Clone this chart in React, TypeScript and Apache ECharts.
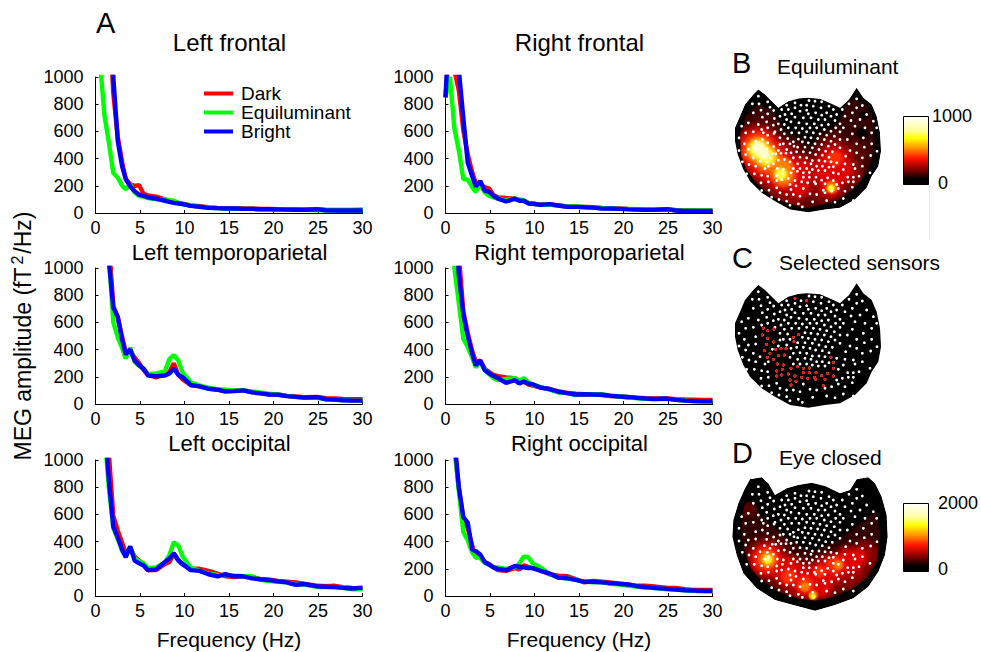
import React, { useEffect, useRef } from "react";
import * as echarts from "echarts";

const FONT = '"Liberation Sans", Arial, sans-serif';
const FREQ = [0, 0.5, 1, 1.5, 2, 2.5, 3, 3.4, 3.9, 4.4, 4.9, 5.4, 5.9, 6.8, 7.8, 8.3, 8.8, 9.3, 9.8, 10.7, 11.7, 12.7, 13.7, 14.6, 15.6, 16.6, 17.6, 18.5, 19.5, 20.5, 21.5, 22.5, 23.4, 24.9, 25.9, 26.9, 27.8, 28.8, 30];
const CONDITIONS = ["Dark", "Equiluminant", "Bright"];
const COND_COLORS = ["#ff0000", "#00ff00", "#0000ff"];

const leftFrontalDark = [3000, 3000, 2600, 1500, 880, 560, 370, 250, 210, 200, 205, 140, 130, 120, 100, 90, 85, 75, 68, 55, 50, 42, 38, 36, 36, 33, 33, 30, 30, 28, 27, 27, 26, 28, 22, 22, 22, 23, 24];
const leftFrontalEqui = [3000, 1120, 720, 520, 295, 260, 200, 175, 210, 150, 125, 120, 110, 100, 100, 95, 90, 75, 65, 55, 47, 40, 35, 33, 33, 30, 30, 28, 28, 27, 25, 24, 23, 20, 20, 18, 18, 18, 18];
const leftFrontalBright = [3000, 3000, 2800, 2000, 1000, 530, 340, 250, 195, 160, 135, 125, 115, 105, 90, 82, 75, 70, 65, 52, 46, 38, 36, 33, 33, 31, 30, 28, 28, 27, 25, 24, 23, 27, 20, 18, 18, 18, 18];
const rightFrontalDark = [850, 1300, 1050, 900, 610, 430, 300, 220, 210, 190, 180, 130, 115, 110, 105, 95, 90, 75, 70, 62, 62, 55, 48, 47, 45, 42, 38, 36, 33, 30, 28, 26, 24, 28, 20, 18, 18, 17, 17];
const rightFrontalEqui = [850, 1000, 620, 460, 250, 245, 190, 155, 215, 150, 125, 115, 105, 95, 105, 100, 95, 75, 68, 60, 62, 55, 48, 48, 45, 42, 35, 35, 32, 30, 28, 26, 24, 28, 20, 18, 18, 18, 18];
const rightFrontalBright = [850, 1500, 1500, 1050, 700, 370, 270, 195, 235, 165, 155, 125, 105, 85, 105, 90, 90, 70, 68, 60, 65, 55, 45, 45, 42, 40, 32, 33, 30, 27, 25, 23, 23, 28, 18, 15, 15, 15, 15];
const leftTempDark = [3000, 3000, 3000, 1200, 720, 640, 490, 380, 390, 340, 300, 250, 215, 195, 215, 235, 300, 215, 180, 140, 130, 115, 105, 98, 98, 100, 88, 80, 72, 70, 60, 55, 50, 52, 42, 40, 38, 36, 36];
const leftTempEqui = [3000, 3000, 3000, 1100, 600, 490, 410, 335, 415, 310, 280, 260, 220, 225, 240, 330, 360, 320, 230, 160, 135, 120, 108, 105, 100, 100, 92, 85, 75, 70, 60, 52, 50, 45, 35, 32, 28, 25, 25];
const leftTempBright = [3000, 3000, 3000, 1050, 710, 640, 470, 365, 400, 320, 285, 260, 210, 205, 210, 225, 260, 215, 195, 140, 130, 112, 105, 92, 95, 100, 85, 78, 70, 68, 58, 52, 48, 50, 35, 32, 28, 25, 25];
const rightTempDark = [3000, 3000, 2200, 1100, 680, 520, 390, 310, 320, 260, 235, 215, 205, 195, 190, 170, 165, 145, 135, 120, 110, 92, 82, 75, 72, 72, 65, 58, 55, 50, 47, 42, 40, 40, 35, 33, 32, 30, 30];
const rightTempEqui = [3000, 1800, 1000, 740, 480, 420, 340, 270, 310, 255, 220, 190, 175, 185, 190, 170, 190, 160, 140, 125, 105, 85, 80, 65, 72, 72, 72, 60, 55, 50, 42, 38, 36, 38, 30, 25, 22, 20, 20];
const rightTempBright = [3000, 3000, 1500, 950, 660, 500, 370, 285, 320, 250, 225, 205, 190, 155, 175, 150, 165, 150, 145, 120, 110, 90, 80, 70, 72, 70, 68, 62, 55, 52, 45, 40, 37, 40, 30, 25, 22, 20, 20];
const leftOccDark = [3000, 3000, 1500, 1050, 590, 480, 390, 310, 350, 290, 260, 230, 190, 190, 235, 250, 310, 260, 230, 200, 200, 185, 165, 145, 140, 145, 140, 125, 120, 110, 105, 100, 90, 75, 72, 75, 65, 60, 55];
const leftOccEqui = [3000, 3000, 1200, 800, 500, 420, 330, 300, 360, 280, 255, 240, 205, 210, 245, 300, 395, 370, 290, 210, 185, 165, 155, 155, 150, 145, 145, 120, 110, 105, 100, 85, 85, 65, 65, 65, 60, 50, 50];
const leftOccBright = [3000, 3000, 1300, 850, 510, 430, 340, 285, 365, 260, 240, 225, 190, 195, 250, 275, 315, 265, 235, 190, 185, 160, 145, 160, 145, 145, 130, 122, 118, 108, 100, 82, 88, 72, 68, 65, 60, 55, 62];
const rightOccDark = [3000, 1800, 1100, 790, 570, 500, 370, 280, 300, 250, 235, 210, 190, 185, 205, 195, 225, 215, 205, 190, 160, 150, 145, 125, 100, 110, 105, 100, 90, 85, 75, 75, 70, 60, 60, 50, 45, 45, 45];
const rightOccEqui = [3000, 1600, 1100, 770, 470, 410, 320, 285, 280, 245, 230, 210, 210, 200, 210, 240, 290, 285, 240, 210, 160, 135, 130, 120, 105, 100, 100, 90, 85, 75, 70, 60, 58, 50, 48, 42, 38, 35, 33];
const rightOccBright = [3000, 1500, 1150, 800, 580, 540, 340, 330, 305, 250, 230, 210, 200, 190, 220, 215, 210, 205, 205, 185, 165, 135, 130, 118, 105, 105, 100, 95, 90, 85, 72, 65, 60, 52, 48, 42, 40, 38, 38];

const PANELS = [
  { title: "Left frontal", series: [leftFrontalDark, leftFrontalEqui, leftFrontalBright] },
  { title: "Right frontal", series: [rightFrontalDark, rightFrontalEqui, rightFrontalBright] },
  { title: "Left temporoparietal", series: [leftTempDark, leftTempEqui, leftTempBright] },
  { title: "Right temporoparietal", series: [rightTempDark, rightTempEqui, rightTempBright] },
  { title: "Left occipital", series: [leftOccDark, leftOccEqui, leftOccBright] },
  { title: "Right occipital", series: [rightOccDark, rightOccEqui, rightOccBright] },
];

// sensor layout
const sensorsWhite = [
  [100,155],[82,178],[128,172],[102,178],[135,188],[108,197],[85,205],[128,208],[112,218],[146,198],[70,235],[50,245],[100,240],[125,232],[148,222],
  [395,163],[372,178],[412,183],[395,190],[352,195],[335,210],[382,205],[425,210],[360,215],[405,225],[378,228],[445,230],[345,238],[355,250],[390,245],[420,250],[455,250],[440,265],[382,268],[345,262],[415,280],[367,285],[395,298],[440,298],[345,285],[418,308],[375,318],[456,320],[395,325],[437,333],[345,310],[362,335],[412,340],
  [62,265],[42,280],[85,262],[58,298],[92,290],[42,318],[70,315],[62,330],[92,312],[85,340],[52,352],[105,350],[72,360],[92,365],[120,372],[65,388],[88,388],[110,392],[128,395],[108,415],[130,412],[132,437],[110,438],[155,430],[140,458],[162,465],[185,470],
  [205,450],[225,455],[255,448],[275,450],[235,432],[185,450],[165,445],[195,482],[220,478],[232,487],[263,472],[305,468],[330,473],[355,462],[385,468],[300,445],[320,440],[340,432],[360,440],[382,428],[352,415],[335,420],[368,398],[385,398],[402,395],[370,412],[385,412],[435,385],[412,365],[390,372],[355,375],[340,388],[335,355],[360,358],[385,360],
  [252,168],[270,170],[290,172],[312,185],[185,182],[228,182],[265,185],[288,190],[305,205],[325,195],[170,195],[190,195],[210,190],[245,197],[180,210],[200,208],[225,200],[250,208],[272,205],[290,212],[318,215],[165,215],[185,225],[210,218],[235,220],[258,220],[280,225],[300,225],[330,228],[160,238],[178,240],[198,232],[222,235],[245,238],[268,238],[290,242],[310,240],[332,250],[168,255],[190,250],[212,250],[232,252],[255,250],[275,250],[298,255],[318,260],[178,268],[200,265],[222,265],[245,262],[265,265],[285,268],[305,272],[328,275],[165,280],[188,282],[240,278],[258,280],[278,282],[298,285],[318,290],[175,298],[195,298],[232,292],[250,295],[270,298],[290,300],[310,305],[330,300],[185,315],[218,308],[240,308],[262,310],[282,315],[302,320],[322,322],[198,325],[215,322],[235,322],[255,325],[272,330],[292,332],[312,338],[205,340],[225,338],[245,340],[262,348],[282,348],[300,350],[195,352],[218,358],[240,355],[258,358],[275,365],[292,365],[312,368],[205,372],[225,372],[245,372],[262,375],[280,378],[300,378],[128,250],[145,242],[150,262],[165,300],[160,318],[142,328],[130,365],[110,255],
];
const sensorsSelected = [
  [210,175],[245,182],[115,265],[128,272],[147,267],[112,285],[128,295],[146,306],[125,313],[118,332],[152,328],[168,326],[183,326],[135,340],[160,347],[178,345],[127,352],[145,358],[205,292],[220,284],[207,305],[157,372],[175,375],[172,388],[155,393],[198,385],[217,380],[235,385],[253,384],[318,352],[325,367],[325,385],[308,400],[155,408],[170,405],[190,402],[210,408],[230,412],[248,415],[268,412],[290,407],[325,408],[235,398],[253,398],[273,398],[195,420],[213,424],[272,418],[300,418],[295,437],[198,435],
];

const outlineAB = [[245,160],[285,163],[320,178],[345,190],[372,165],[395,130],[415,160],[440,180],[455,215],[465,265],[468,320],[460,365],[440,395],[425,430],[390,465],[345,490],[300,495],[250,503],[195,495],[150,470],[110,445],[75,410],[55,375],[38,330],[30,290],[30,250],[45,215],[60,180],[85,150],[100,135],[120,150],[160,190],[190,170],[220,162]];
const outlineD = [[260,128],[300,138],[345,160],[375,150],[395,118],[430,112],[450,130],[470,170],[485,225],[488,290],[480,345],[460,395],[430,440],[385,475],[330,495],[270,512],[205,495],[150,480],[95,445],[55,400],[35,345],[22,290],[25,240],[40,190],[60,145],[75,118],[110,112],[130,130],[150,165],[185,145],[220,135]];
const innerB = [[250,190],[320,190],[365,190],[395,165],[425,200],[445,240],[452,300],[445,350],[425,400],[385,450],[340,480],[290,495],[240,505],[190,490],[140,470],[95,430],[65,390],[48,345],[45,280],[55,240],[75,200],[100,170],[135,205],[165,205]];
const innerD = [[260,200],[345,200],[400,170],[435,175],[460,240],[465,290],[458,360],[430,410],[385,445],[330,470],[270,482],[215,475],[160,455],[115,425],[80,390],[60,340],[50,290],[48,240],[60,190],[90,170],[130,190]];
const baseB = [[60,230],[100,190],[145,215],[165,250],[210,310],[260,350],[310,290],[350,230],[370,175],[420,190],[445,240],[450,330],[430,395],[370,460],[300,495],[230,505],[160,480],[100,440],[65,390],[45,330],[50,280]];
const baseD = [[55,195],[85,180],[110,230],[180,290],[260,335],[340,300],[420,240],[455,210],[465,290],[450,370],[420,410],[380,445],[320,470],[260,480],[200,465],[140,440],[95,410],[60,350],[48,280]];

const HOT = ["#000000", "#560000", "#8c0000", "#e00000", "#ff3000", "#ff8000", "#ffc000", "#ffff30", "#ffffc8"];
// [x, y, diameter, level]
const blobsB = [
  [412,280,44,0],[415,225,34,0],[255,340,50,0],
  [200,340,130,1],[320,320,130,1],[110,270,120,1],[390,340,110,1],[250,470,140,1],
  [100,340,200,2],[170,400,200,2],[240,410,160,2],[320,380,200,2],[310,440,140,2],[375,400,100,2],[195,460,130,2],
  [95,330,170,3],[130,360,170,3],[175,395,150,3],[225,395,110,3],[330,360,120,3],[350,395,90,3],[300,390,100,3],[315,435,90,3],[225,440,80,3],
  [100,325,135,4],[135,365,125,4],[175,400,105,4],[330,355,60,4],[320,440,56,4],
  [100,330,105,5],[125,355,100,5],[170,385,85,5],[175,405,85,5],[320,442,44,5],
  [100,328,80,7],[125,350,74,7],[168,402,50,7],[318,445,28,7],
  [100,325,52,8],[118,342,44,8],
];
const blobsD = [
  [110,340,120,1],[70,210,60,1],[420,350,130,1],
  [130,360,170,2],[210,420,170,2],[280,430,170,2],[370,390,170,2],[420,340,100,2],[260,465,90,2],
  [125,360,130,3],[185,390,110,3],[240,420,120,3],[310,390,120,3],[370,365,110,3],[290,440,80,3],[405,350,60,3],
  [125,358,100,4],[190,410,60,4],[240,435,70,4],[330,375,70,4],[285,395,50,4],
  [128,358,64,5],[240,440,36,5],[340,375,36,5],[265,465,36,5],
  [128,358,44,6],[262,468,26,6],[128,358,30,7],[265,470,18,7],[128,358,12,8],
];

const GRID_X = [95.5, 445.5];
const GRID_Y = [77, 268, 460];
const TITLE_TOP = [30, 241, 432];
const TITLE_SIZE = [24, 22, 22];
const HEAD_TOPS = [40, 240, 440];
const DOT_SHIFT = [13.5, 0, -15];

function keyhole(outer: number[][], inner: number[][]) {
  const rev = [...inner].reverse();
  return [...outer, outer[0], rev[0], ...rev, rev[0], outer[0]];
}
function blobColor(level: number) {
  const c = HOT[level];
  return new echarts.graphic.RadialGradient(0.5, 0.5, 0.5, [
    { offset: 0, color: c },
    { offset: 0.45, color: c },
    { offset: 1, color: c + "00" },
  ]);
}

function buildOption() {
  const grid: any[] = [];
  const xAxis: any[] = [];
  const yAxis: any[] = [];
  const series: any[] = [];
  const title: any[] = [];

  PANELS.forEach((p, i) => {
    const col = i % 2;
    const row = Math.floor(i / 2);
    grid.push({ left: GRID_X[col], top: GRID_Y[row], width: 267, height: 136 });
    xAxis.push({
      gridIndex: i, type: "value", min: 0, max: 30, interval: 5,
      splitLine: { show: false },
      axisLine: { lineStyle: { color: "#000", width: 1 } },
      axisTick: { inside: true, length: 3, lineStyle: { color: "#000" } },
      axisLabel: { color: "#000", fontSize: 18, fontFamily: FONT, margin: 6 },
      name: row === 2 ? "Frequency (Hz)" : "",
      nameLocation: "middle", nameGap: 33,
      nameTextStyle: { color: "#000", fontSize: 21, fontFamily: FONT },
    });
    yAxis.push({
      gridIndex: i, type: "value", min: 0, max: 1000, interval: 200,
      splitLine: { show: false },
      axisLine: { show: true, lineStyle: { color: "#000", width: 1 } },
      axisTick: { show: true, inside: true, length: 3, lineStyle: { color: "#000" } },
      axisLabel: { color: "#000", fontSize: 18, fontFamily: FONT, margin: 12, formatter: (v: number) => String(v) },
      name: i === 2 ? "MEG amplitude (fT{s|2}/Hz)" : "",
      nameLocation: "middle", nameGap: 60,
      nameTextStyle: {
        color: "#000", fontSize: 23, fontFamily: FONT,
        rich: { s: { fontSize: 16, fontFamily: FONT, color: "#000", padding: [0, 2, 10, 3] } },
      },
    });
    title.push({
      text: p.title, left: GRID_X[col] + 134, top: TITLE_TOP[row], padding: 0, textAlign: "center",
      textStyle: { color: "#000", fontSize: TITLE_SIZE[row], fontWeight: "normal", fontFamily: FONT },
    });
    p.series.forEach((vals, k) => {
      series.push({
        type: "line", name: CONDITIONS[k], xAxisIndex: i, yAxisIndex: i, symbol: "none",
        clip: true, silent: true, z: 3 + k,
        lineStyle: { color: COND_COLORS[k], width: 4.4 }, itemStyle: { color: COND_COLORS[k] },
        data: FREQ.map((f, j) => [f, vals[j]]),
      });
    });
  });

  const polygon = (idx: number, pts: number[][], fill: string, z: number) => ({
    type: "custom", xAxisIndex: idx, yAxisIndex: idx, silent: true, clip: false, z,
    data: [[0, 0]],
    renderItem: (_: any, api: any) => ({
      type: "polygon",
      shape: { points: pts.map((q) => api.coord(q)) },
      style: { fill },
    }),
  });
  const heads = [
    { outline: outlineAB, shift: 13.5, inner: innerB, base: baseB, baseColor: "#340000", blobs: blobsB, red: false },
    { outline: outlineAB, shift: 0, inner: null, base: null, baseColor: "", blobs: [] as number[][], red: true },
    { outline: outlineD, shift: 0, inner: innerD, base: baseD, baseColor: "#300000", blobs: blobsD, red: false },
  ];
  heads.forEach((h, n) => {
    const idx = 6 + n;
    grid.push({ left: 725, top: HEAD_TOPS[n], width: 256, height: 200 });
    xAxis.push({ gridIndex: idx, type: "value", min: 0, max: 768, show: false });
    yAxis.push({ gridIndex: idx, type: "value", min: 0, max: 600, inverse: true, show: false });
    const outline = h.outline.map(([x, y]) => [x, y + h.shift]);
    series.push(polygon(idx, outline, "#000", 10));
    if (h.base) series.push(polygon(idx, h.base, h.baseColor, 11));
    if (h.blobs.length) {
      series.push({
        type: "scatter", xAxisIndex: idx, yAxisIndex: idx, silent: true, clip: false, z: 12,
        data: h.blobs.map((b) => ({
          value: [b[0], b[1]], symbolSize: b[2] / 3, itemStyle: { color: blobColor(b[3]), opacity: 1 },
        })),
      });
    }
    if (h.inner) {
      series.push(polygon(idx, keyhole(outline, h.inner), "#000", 13));
      const box = [[0, 90], [525, 90], [525, 570], [0, 570]];
      series.push(polygon(idx, keyhole(box, outline), "#fff", 13));
    }
    const dots = [...sensorsWhite, ...sensorsSelected].map(([x, y]) => [x, y + DOT_SHIFT[n]]);
    series.push({
      type: "scatter", xAxisIndex: idx, yAxisIndex: idx, silent: true, clip: false, z: 14,
      symbolSize: 2.8, itemStyle: { color: "#fff", opacity: 1 }, data: dots,
    });
    if (h.red) {
      series.push({
        type: "scatter", xAxisIndex: idx, yAxisIndex: idx, silent: true, clip: false, z: 15,
        symbolSize: 3, itemStyle: { color: "#ee1111", opacity: 1 }, data: sensorsSelected,
      });
    }
  });

  const label = (text: string, x: number, y: number, fontSize: number, align = "left") => ({
    type: "text", x, y, z: 100, silent: true,
    style: { text, fill: "#000", fontSize, fontFamily: FONT, textAlign: align, textVerticalAlign: "middle" },
  });
  const bar = (x: number, y: number, h: number) => ({
    type: "rect", z: 100, silent: true,
    shape: { x, y, width: 25, height: h },
    style: {
      stroke: "#000", lineWidth: 1,
      fill: new echarts.graphic.LinearGradient(0, 0, 0, 1, [
        { offset: 0, color: "#ffffff" },
        { offset: 0.2, color: "#ffffa0" },
        { offset: 0.32, color: "#ffff00" },
        { offset: 0.47, color: "#ff9000" },
        { offset: 0.62, color: "#ff1000" },
        { offset: 0.8, color: "#700000" },
        { offset: 0.92, color: "#000000" },
        { offset: 1, color: "#000000" },
      ]),
    },
  });

  return {
    animation: false,
    backgroundColor: "#fff",
    textStyle: { fontFamily: FONT },
    title, grid, xAxis, yAxis, series,
    legend: {
      left: 204, top: 84, orient: "vertical", selectedMode: false, icon: "rect",
      itemWidth: 29, itemHeight: 4, itemGap: 0, padding: 0,
      data: CONDITIONS,
      textStyle: { color: "#000", fontSize: 19, fontFamily: FONT, padding: [0, 0, 0, 3] },
    },
    graphic: [
      label("A", 96, 23, 29),
      label("B", 732, 63, 29),
      label("C", 732, 258, 29),
      label("D", 732, 453, 29),
      label("Equiluminant", 777, 66, 21),
      label("Selected sensors", 779, 262, 21),
      label("Eye closed", 779, 457, 21),
      bar(903.5, 116.5, 68),
      bar(903.5, 503.5, 68),
      label("1000", 932, 116, 18),
      label("0", 938, 183, 18),
      label("2000", 938, 503, 18),
      label("0", 938, 569, 18),
      { type: "line", z: 100, silent: true, shape: { x1: 929.5, y1: 185, x2: 929.5, y2: 240 }, style: { stroke: "#e8ecfa", lineWidth: 1 } },
    ],
  };
}

export default function App() {
  const ref = useRef<HTMLDivElement>(null);
  useEffect(() => {
    const chart = echarts.init(ref.current!, undefined, { renderer: "svg" });
    chart.setOption(buildOption() as any);
    return () => chart.dispose();
  }, []);
  return <div ref={ref} style={{ position: "absolute", left: 0, top: 0, width: 981, height: 652 }} />;
}
